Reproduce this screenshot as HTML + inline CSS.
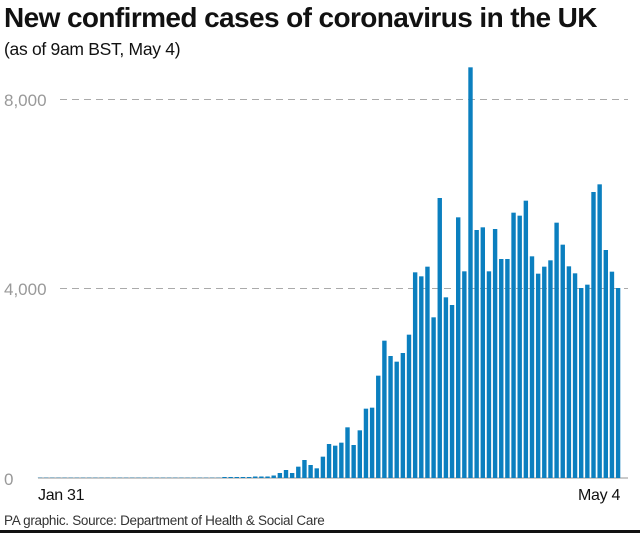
<!DOCTYPE html><html><head><style>
body{margin:0;width:640px;height:533px;background:#fff;overflow:hidden;font-family:"Liberation Sans",sans-serif}
</style></head><body>
<svg width="640" height="533" xmlns="http://www.w3.org/2000/svg" font-family="Liberation Sans, sans-serif">
<text x="4" y="27" font-size="28" font-weight="bold" fill="#111" letter-spacing="-0.6">New confirmed cases of coronavirus in the UK</text>
<text x="4" y="55" font-size="17.5" fill="#111" letter-spacing="-0.3">(as of 9am BST, May 4)</text>
<line x1="60" y1="99.5" x2="628" y2="99.5" stroke="#aaa" stroke-dasharray="7,5"/>
<line x1="60" y1="288.5" x2="628" y2="288.5" stroke="#aaa" stroke-dasharray="7,5"/>
<text x="4" y="106" font-size="17" fill="#999">8,000</text>
<text x="4" y="295" font-size="17" fill="#999">4,000</text>
<text x="4" y="485" font-size="17" fill="#999">0</text>
<line x1="38" y1="478" x2="628" y2="478" stroke="#aaa" stroke-width="1.2"/>
<g id="bars" fill="#0b7fbf"></g>
<text x="38" y="500" font-size="16" fill="#111" letter-spacing="-0.3">Jan 31</text>
<text x="578" y="500" font-size="16" fill="#111" letter-spacing="-0.3">May 4</text>
<text x="4" y="525" font-size="13.5" fill="#333" letter-spacing="-0.3">PA graphic. Source: Department of Health &amp; Social Care</text>
<rect x="0" y="530" width="640" height="3" fill="#111"/>
</svg>
<script>
var tops=[1220,1200,1215,1225,1190,1152,1157,1148,1102,1155,1111,1046,1043,947,842,888,905,879,824,637,649,620,772,414,712,735,472,634,22,510,502,634,507,597,597,458,467,422,589,641,620,601,488,554,619,640,684,674,396,373,570,635,684];
var h=[];for(var i=0;i<42;i++){var v=0.3;if(i>=30)v=1;if(i>=35)v=1.5;if(i>=38)v=2.5;if(i==39)v=5;if(i==40)v=8;if(i==41)v=5;h.push(v);}
tops.forEach(function(t){h.push((1254-t)/3);});
var g=document.getElementById('bars'),s='';
for(var i=0;i<h.length;i++){var cx=40+i*6.15;s+='<rect x="'+(cx-2.2).toFixed(2)+'" y="'+(478-h[i]).toFixed(2)+'" width="4.4" height="'+h[i].toFixed(2)+'"/>';}
g.innerHTML=s;
</script>
</body></html>
